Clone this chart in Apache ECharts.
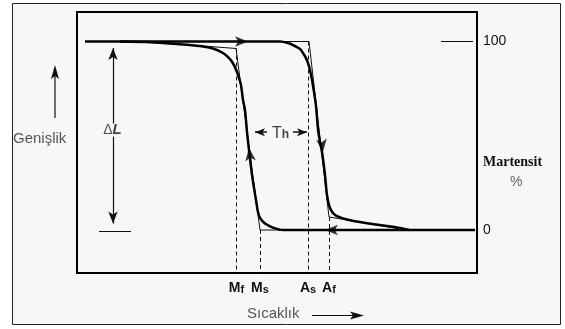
<!DOCTYPE html>
<html>
<head>
<meta charset="utf-8">
<script src="https://cdn.jsdelivr.net/npm/echarts@6/dist/echarts.min.js"></script>
<style>
html,body{margin:0;padding:0;background:#fff;}
#c{width:565px;height:329px;}
</style>
</head>
<body>
<div id="c"></div>
<script>
// Temperature (arbitrary units, 0..400) and martensite fraction (%)
const heatingX = [8, 203, 211, 216, 223, 226, 229, 231, 233, 235, 237, 239, 241, 243, 245, 248, 250, 253, 258, 270, 286, 306, 323, 332];
const heatingY = [100, 100, 99.2, 98.1, 96.0, 93.9, 91.2, 88.6, 84.9, 79.6, 73.2, 65.8, 53.5, 46.6, 41.4, 29.2, 18.6, 11.7, 8.0, 5.6, 4.0, 2.4, 1.1, 0];
const coolingX = [398, 206, 196, 188, 183, 181, 179, 175, 172, 170, 168, 166, 164, 162, 160, 157, 153, 146, 136, 123, 113, 93, 70, 43];
const coolingY = [0, 0, 1.3, 3.4, 6.4, 9.5, 15.9, 29.2, 42.4, 51.9, 63.7, 69.0, 76.9, 80.6, 83.8, 87.5, 90.7, 93.9, 96.3, 97.6, 98.1, 98.9, 99.7, 100];
const idealCoolX = [73, 159, 183, 398];
const idealCoolY = [99.7, 96.3, 0, 0];
const idealHeatX = [8, 232, 252, 330];
const idealHeatY = [100, 100, 6.9, 0];
const transitionNames = ['M', 'M', 'A', 'A'];
const transitionSubs = ['f', 's', 's', 'f'];
const transitionTemps = [159.5, 183, 231, 252];
const transitionLevels = [96.3, 0, 100, 6.9];
const rightTicks = [0, 100];
const deltaL = [0, 100];
const hysteresisLevel = 51.9;

const zip = (xs, ys) => xs.map((x, i) => [x, ys[i]]);
const Y_MIN = -22.8, Y_MAX = 115.65;
const FONT = '"Liberation Sans", Arial, sans-serif';

const dashed = transitionTemps.map((t, i) => [
  { coord: [t, transitionLevels[i]] },
  { coord: [t, Y_MIN] }
]);

const chart = echarts.init(document.getElementById('c'), null, { renderer: 'canvas' });
chart.setOption({
  animation: false,
  backgroundColor: '#ffffff',
  graphic: [
    { type: 'rect', z: -10, shape: { x: 12.5, y: 3.5, width: 548, height: 321 },
      style: { fill: '#f7f7f7', stroke: '#222', lineWidth: 1 } },
    { type: 'text', left: 13, top: 131, style: { text: 'Genişlik', fill: '#555', font: '15px ' + FONT } },
    { type: 'line', shape: { x1: 55, y1: 118, x2: 55, y2: 74 }, style: { stroke: '#111', lineWidth: 1.2 } },
    { type: 'polygon', shape: { points: [[55, 65], [51, 79], [55, 76], [59, 79]] }, style: { fill: '#111' } },
    { type: 'text', left: 247, top: 306, style: { text: 'Sıcaklık', fill: '#555', font: '15px ' + FONT } },
    { type: 'line', shape: { x1: 312, y1: 315.5, x2: 356, y2: 315.5 }, style: { stroke: '#111', lineWidth: 1.2 } },
    { type: 'polygon', shape: { points: [[364, 315.5], [350, 311.5], [353, 315.5], [350, 319.5]] }, style: { fill: '#111' } },
    { type: 'text', left: 483, top: 155, style: { text: 'Martensit', fill: '#111', font: 'bold 14px "Liberation Serif", "Times New Roman", serif' } },
    { type: 'text', left: 510, top: 175, style: { text: '%', fill: '#666', font: '14px ' + FONT } }
  ],
  grid: { left: 77, right: 88, top: 12, bottom: 56, show: true, borderColor: '#000', borderWidth: 2, backgroundColor: 'transparent' },
  xAxis: {
    type: 'value', min: 0, max: 400,
    axisLine: { show: false }, axisTick: { show: false }, splitLine: { show: false },
    axisLabel: {
      customValues: transitionTemps, margin: 6,
      formatter: (v) => {
        const i = transitionTemps.indexOf(v);
        return i < 0 ? '' : '{a|' + transitionNames[i] + '}{b|' + transitionSubs[i] + '}';
      },
      rich: {
        a: { fontSize: 14, fontWeight: 'bold', color: '#111', fontFamily: FONT, lineHeight: 16, verticalAlign: 'bottom' },
        b: { fontSize: 11, fontWeight: 'bold', color: '#111', fontFamily: FONT, lineHeight: 9, verticalAlign: 'bottom' }
      }
    }
  },
  yAxis: [
    { type: 'value', min: Y_MIN, max: Y_MAX, show: false },
    { type: 'value', min: Y_MIN, max: Y_MAX, position: 'right',
      axisLine: { show: false }, axisTick: { show: false }, splitLine: { show: false },
      axisLabel: { customValues: rightTicks, margin: 6, color: '#111', fontSize: 14, fontFamily: FONT,
        formatter: (v) => rightTicks.indexOf(v) >= 0 ? String(v) : '' } }
  ],
  series: [
    { type: 'line', data: zip(idealHeatX, idealHeatY), symbol: 'none', lineStyle: { color: '#111', width: 1 }, z: 2 },
    { type: 'line', data: zip(idealCoolX, idealCoolY), symbol: 'none', lineStyle: { color: '#111', width: 1 }, z: 2 },
    { type: 'line', data: zip(heatingX, heatingY), symbol: 'none', smooth: 0.25, lineStyle: { color: '#000', width: 2.5 }, z: 3 },
    { type: 'line', data: zip(coolingX, coolingY), symbol: 'none', smooth: 0.25, lineStyle: { color: '#000', width: 2.5 }, z: 3 },
    { type: 'line', data: [], symbol: 'none',
      markLine: { silent: true, symbol: 'none', label: { show: false },
        lineStyle: { color: '#111', width: 1, type: [4, 3] }, data: dashed } },
    { type: 'line', data: [], symbol: 'none',
      markLine: { silent: true, symbol: ['none', 'arrow'], symbolSize: [7, 12], label: { show: false },
        lineStyle: { color: '#111', width: 1.2, type: 'solid' },
        data: [
          [{ coord: [36, 56.5] }, { coord: [36, deltaL[1] - 3.5] }],
          [{ coord: [36, 49.5] }, { coord: [36, deltaL[0] + 3.5] }]
        ] } },
    { type: 'line', data: [], symbol: 'none',
      markLine: { silent: true, symbol: ['none', 'arrow'], symbolSize: [6, 10], label: { show: false },
        lineStyle: { color: '#111', width: 1.5, type: 'solid' },
        data: [
          [{ coord: [190, hysteresisLevel] }, { coord: [178, hysteresisLevel] }],
          [{ coord: [216, hysteresisLevel] }, { coord: [230, hysteresisLevel] }]
        ] } },
    { type: 'line', data: [], symbol: 'none',
      markLine: { silent: true, symbol: 'none', label: { show: false },
        lineStyle: { color: '#111', width: 1, type: 'solid' },
        data: [
          [{ coord: [22, -0.4] }, { coord: [54, -0.4] }],
          [{ coord: [364, 100] }, { coord: [396, 100] }]
        ] } },
    { type: 'scatter', symbol: 'arrow', symbolSize: [8, 13], itemStyle: { color: '#000' }, z: 5,
      data: [
        { value: [171, 100], symbolRotate: -90 },
        { value: [172, 43.5], symbolRotate: 7 },
        { value: [246, 41.4], symbolRotate: 187 },
        { value: [248, 0], symbolRotate: 90 }
      ] },
    { type: 'scatter', symbol: 'circle', symbolSize: 2, itemStyle: { color: 'rgba(0,0,0,0)' }, z: 6,
      data: [
        { value: [35.5, 53.1], label: { formatter: '{d|Δ}{l|L}' } },
        { value: [203.5, hysteresisLevel], label: { formatter: '{t|T}{h|h}' } }
      ],
      label: { show: true, position: 'inside', color: '#111', rich: {
        d: { fontSize: 14, color: '#222', fontFamily: FONT },
        l: { fontSize: 15, color: '#111', fontWeight: 'bold', fontStyle: 'italic', fontFamily: FONT },
        t: { fontSize: 16, color: '#111', fontFamily: FONT, lineHeight: 18, verticalAlign: 'bottom' },
        h: { fontSize: 12, color: '#111', fontWeight: 'bold', fontFamily: FONT, lineHeight: 8, verticalAlign: 'bottom' }
      } } }
  ]
});
</script>
</body>
</html>
